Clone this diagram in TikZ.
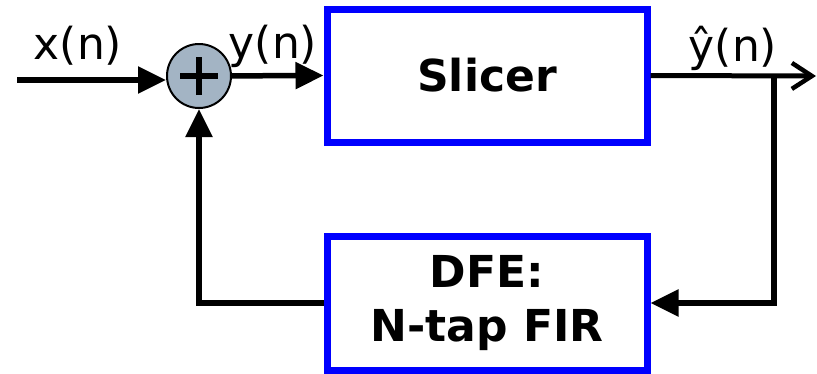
\documentclass[tikz,border=0pt]{standalone}
\usepackage{fontspec}
\setmainfont{DejaVu Sans}
\usetikzlibrary{arrows.meta}
\definecolor{sumfill}{RGB}{163,180,196}
\tikzset{
  x=1pt, y=-1pt,
  blockbox/.style={draw=blue, line width=7pt, minimum width=320pt, inner sep=0pt},
  blocktext/.style={font=\bfseries\fontsize{44}{54}\selectfont},
  sig/.style={line width=5.5pt},
  sigarrow/.style={sig, -{Triangle[length=28pt,width=26pt]}},
  outarrow/.style={line width=5pt, -{Straight Barb[length=20pt,width=26pt,line width=4.5pt]}},
  siglabel/.style={font=\fontsize{44}{52}\selectfont, anchor=base, inner sep=0pt},
}
\begin{document}
\begin{tikzpicture}
\useasboundingbox (0,0) rectangle (817,373);
\node[blockbox, minimum height=133pt, blocktext] (slicer) at (487,75.5) {Slicer};
\node[blockbox, minimum height=134pt, blocktext, align=center] (dfe) at (487,303) {DFE:\\N-tap FIR};
\node[circle, draw=black, line width=2pt, fill=sumfill, minimum size=64pt, inner sep=0pt] (sum) at (199,76) {};
\draw[line width=5.5pt] ([xshift=-19pt]sum.center) -- ([xshift=19pt]sum.center);
\draw[line width=5.5pt] ([yshift=-19pt]sum.center) -- ([yshift=19pt]sum.center);
\coordinate (in) at (17,80);
\coordinate (out) at (816,76);
\coordinate (tap) at (774,76);
\draw[sigarrow] (in) -- (in -| sum.west);
\draw[sigarrow] (sum) -- (slicer.west);
\draw[outarrow] (slicer.east) -- (out);
\draw[sigarrow] (tap) |- (dfe.east);
\draw[sigarrow] (dfe.west) -| (sum.south);
\node[siglabel] (xlab) at (78,59) {x(n)};
\node[siglabel] (ylab) at (273,58) {y(n)};
\node[siglabel] (yhlab) at (733,61) {ŷ(n)};
\end{tikzpicture}
\end{document}
